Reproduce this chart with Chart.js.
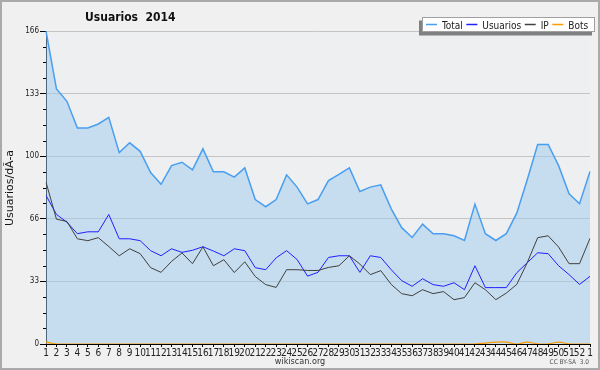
<!DOCTYPE html>
<html><head><meta charset="utf-8">
<script src="https://cdn.jsdelivr.net/npm/chart.js@4/dist/chart.umd.min.js"></script>
<style>html,body{margin:0;padding:0;background:#f0f0f0;overflow:hidden}#wrap{width:600px;height:370px;position:relative}</style>
</head><body><div id="wrap"><canvas id="c" width="600" height="370"></canvas></div>
<script>
// ---- data ----
const weekLabels = ['1','2','3','4','5','6','7','8','9','10','11','12','13','14','15','16','17','18','19','20','21','22','23','24','25','26','27','28','29','30','31','32','33','34','35','36','37','38','39','40','41','42','43','44','45','46','47','48','49','50','51','52','1'];
const totalValues = [166,135.3,128.7,114.6,114.6,116.7,120.2,101.5,106.7,102.2,90.9,84.7,94.6,96.4,92.4,103.5,91.3,91.3,88.5,93.4,76.6,72.8,76.6,89.7,83.2,74.3,76.6,86.7,90,93.4,80.9,83.2,84.4,71.7,61.7,56.5,63.6,58.5,58.5,57.4,54.9,74.2,58.5,54.9,58.5,69.4,87.1,105.8,105.8,94.6,79.7,74.4,91.5];
const usuariosValues = [78.8,68.7,64.6,58.5,59.5,59.5,68.7,55.8,55.8,54.8,49.5,46.8,50.5,48.6,49.7,51.6,49.3,46.8,50.5,49.5,40.5,39.4,45.7,49.5,44.8,36,38,45.9,46.8,46.8,38,46.8,45.9,39.4,33.6,30.6,34.6,31.5,30.6,32.5,28.8,41.5,29.9,29.9,29.9,37.8,43.1,48.4,47.9,41.5,36.8,31.6,35.9];
const ipValues = [85.8,66.2,65,55.8,54.8,56.4,51.7,46.8,50.5,47.9,40.5,38,43.8,48.3,42.6,51.5,41.5,44.7,37.9,43.6,35.8,31.5,30,39.4,39.4,39,39,40.6,41.5,46.8,42.4,36.8,38.9,31.6,26.7,25.6,28.8,26.7,27.8,23.5,24.6,32.5,28.8,23.5,27,31.6,43.1,56.4,57.4,51.4,42.6,42.6,56];
const botsValues = [1,0,0,0,0,0,0,0,0,0,0,0,0,0,0,0,0,0,0,0,0,0,0,0,0,0,0,0,0,0,0,0,0,0,0,0,0,0,0,0,0,0,0.5,1,1,0,1,0,0,1,0,0,0];
const seriesNames = ['Total','Usuarios','IP','Bots'];
const yTickLabels = ['0','33','66','100','133','166'];
const yMax = 166;
const chartTitle = 'Usuarios  2014';
const yTitle = 'Usuarios/dÃ-a';
const footerText = 'wikiscan.org';
const licenseText = 'CC BY-SA  3.0';

const FONT = "'DejaVu Sans Condensed','DejaVu Sans',sans-serif";

const decor = {
  id: 'decor',
  beforeDraw(chart) {
    const ctx = chart.ctx, a = chart.chartArea;
    ctx.save();
    ctx.fillStyle = '#f0f0f0';
    ctx.fillRect(0, 0, chart.width, chart.height);
    ctx.strokeStyle = '#aaaaaa';
    ctx.lineWidth = 2;
    ctx.strokeRect(1, 1, chart.width - 2, chart.height - 2);
    ctx.fillStyle = '#eeeff1';
    ctx.fillRect(a.left, a.top, a.right - a.left, a.bottom - a.top);
    ctx.restore();
  },
  afterDraw(chart) {
    const ctx = chart.ctx, a = chart.chartArea;
    const ys = chart.scales.y;
    ctx.save();
    // minor ticks
    ctx.strokeStyle = '#000';
    ctx.lineWidth = 1;
    ys.ticks.forEach((t, i) => {
      if (i % 4 !== 0) {
        const py = Math.round(ys.getPixelForTick(i)) + 0.5;
        ctx.beginPath();
        ctx.moveTo(a.left - 3, py);
        ctx.lineTo(a.left, py);
        ctx.stroke();
      }
    });
    // title
    ctx.fillStyle = '#111';
    ctx.font = "bold 12px " + FONT;
    ctx.textBaseline = 'alphabetic';
    ctx.textAlign = 'left';
    ctx.fillText(chartTitle, 85, 21);
    // y title
    ctx.save();
    ctx.translate(10, 188);
    ctx.rotate(-Math.PI / 2);
    ctx.font = "11px 'DejaVu Sans',sans-serif";
    ctx.textAlign = 'center';
    ctx.textBaseline = 'middle';
    ctx.fillStyle = '#111';
    ctx.fillText(yTitle, 0, 0);
    ctx.restore();
    // footer
    ctx.font = "9px " + FONT;
    ctx.textAlign = 'center';
    ctx.textBaseline = 'middle';
    ctx.fillStyle = '#333';
    ctx.fillText(footerText, 300, 362);
    ctx.font = "6.5px " + FONT;
    ctx.textAlign = 'right';
    ctx.fillStyle = '#555';
    ctx.fillText(licenseText, 589, 362.5);
    // legend
    ctx.fillStyle = '#808080';
    ctx.fillRect(419, 20.5, 173, 15);
    ctx.fillStyle = '#ffffff';
    ctx.fillRect(422, 17, 173, 15);
    ctx.strokeStyle = '#a0a0a0';
    ctx.lineWidth = 1;
    ctx.strokeRect(422.5, 17.5, 172, 14);
    ctx.font = "10px " + FONT;
    ctx.textAlign = 'left';
    ctx.textBaseline = 'alphabetic';
    let x = 426;
    chart.data.datasets.forEach(ds => {
      ctx.strokeStyle = ds.borderColor;
      ctx.lineWidth = 1.5;
      ctx.beginPath();
      ctx.moveTo(x, 24.5);
      ctx.lineTo(x + 11, 24.5);
      ctx.stroke();
      x += 16;
      ctx.fillStyle = '#222';
      ctx.fillText(ds.label, x, 28.5);
      x += ctx.measureText(ds.label).width + 3.5;
    });
    ctx.restore();
  }
};

new Chart(document.getElementById('c'), {
  type: 'line',
  data: {
    labels: weekLabels,
    datasets: [
      { label: seriesNames[0], data: totalValues, borderColor: '#4a9ef0', backgroundColor: 'rgba(156,203,238,0.5)', fill: 'origin', borderWidth: 1.5, pointRadius: 0, tension: 0, order: 4 },
      { label: seriesNames[1], data: usuariosValues, borderColor: '#2020ff', borderWidth: 1, pointRadius: 0, tension: 0, fill: false, order: 3 },
      { label: seriesNames[2], data: ipValues, borderColor: '#404040', borderWidth: 1, pointRadius: 0, tension: 0, fill: false, order: 2 },
      { label: seriesNames[3], data: botsValues, borderColor: '#ff9900', borderWidth: 1.2, pointRadius: 0, tension: 0.4, fill: false, order: 1 }
    ]
  },
  options: {
    responsive: false,
    animation: false,
    devicePixelRatio: 1,
    layout: { padding: { top: 31, right: 10, bottom: 0, left: 0 } },
    plugins: { legend: { display: false }, tooltip: { enabled: false }, title: { display: false } },
    scales: {
      x: {
        offset: false,
        grid: { drawOnChartArea: false, drawTicks: true, tickLength: 3, tickColor: '#000' },
        border: { color: '#000', width: 1 },
        ticks: { autoSkip: false, maxRotation: 0, minRotation: 0, padding: 0, color: '#222', font: { family: FONT, size: 10 } },
        afterFit(s) { s.height = 26; }
      },
      y: {
        min: 0, max: yMax,
        afterBuildTicks(s) { s.ticks = Array.from({ length: 21 }, (_, i) => ({ value: i * yMax / 20 })); },
        grid: {
          color: c => (c.index % 4 === 0 ? '#c4c4c4' : 'rgba(0,0,0,0)'),
          tickColor: c => (c.index % 4 === 0 ? '#000' : 'rgba(0,0,0,0)'),
          tickLength: 6
        },
        border: { color: '#000', width: 1 },
        ticks: {
          padding: 1, color: '#222', font: { family: FONT, size: 8 },
          callback: (v, i) => (i % 4 === 0 ? yTickLabels[i / 4] : '')
        },
        afterFit(s) { s.width = 46; }
      }
    }
  },
  plugins: [decor]
});
</script></body></html>
